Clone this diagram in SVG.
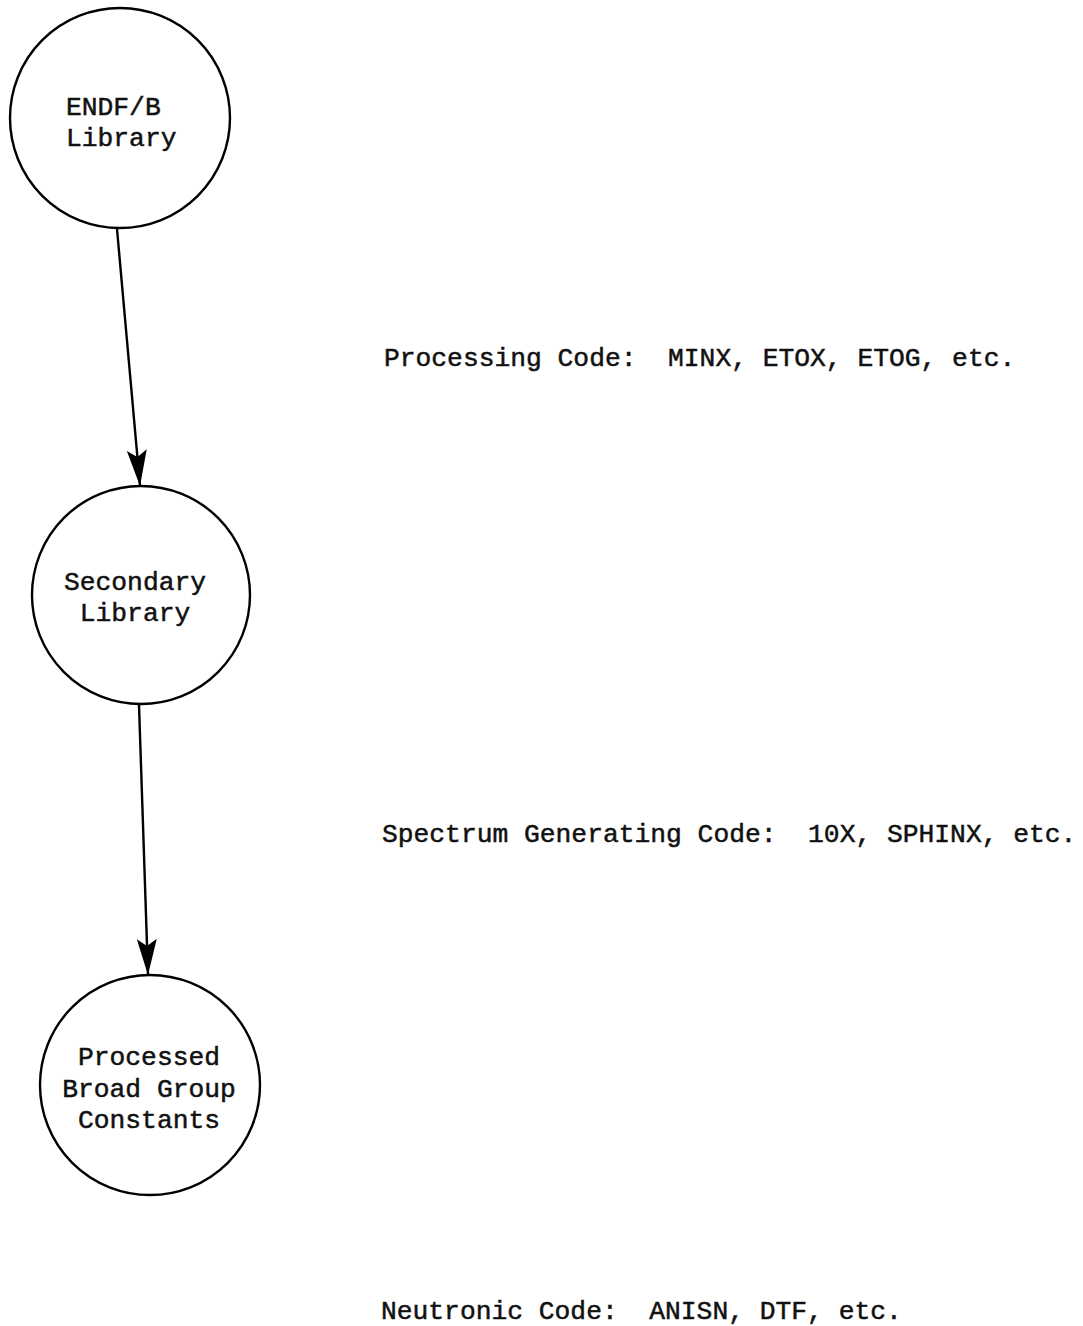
<svg xmlns="http://www.w3.org/2000/svg" width="1083" height="1326" viewBox="0 0 1083 1326">
<style>
.node{fill:none;stroke:#000;stroke-width:2.4}
.t{font-family:"Liberation Mono","Courier New",monospace;font-size:26.3px;fill:#111;stroke:#111;stroke-width:0.5}
.c{text-anchor:middle}
.edge{stroke:#000;stroke-width:2.4;fill:none}
</style>
<defs>
<marker id="arr" viewBox="0 0 36 22" refX="36" refY="11" markerWidth="36" markerHeight="22" markerUnits="userSpaceOnUse" orient="auto">
<path d="M0,1 L36,11 L0,21 L7,11 Z" fill="#000"/>
</marker>
</defs>
<rect width="1083" height="1326" fill="#fff"/>
<g id="connectors">
<line class="edge" x1="117" y1="229" x2="140" y2="486" marker-end="url(#arr)"/>
<line class="edge" x1="139" y1="705" x2="148" y2="975" marker-end="url(#arr)"/>
</g>
<g id="endf">
<circle class="node" cx="120" cy="118" r="110"/>
<text class="t" x="66" y="115">ENDF/B</text>
<text class="t" x="66" y="146">Library</text>
</g>
<g id="secondary">
<circle class="node" cx="141" cy="595" r="109"/>
<text class="t c" x="135" y="590">Secondary</text>
<text class="t c" x="135" y="621">Library</text>
</g>
<g id="processed">
<circle class="node" cx="150" cy="1085" r="110"/>
<text class="t c" x="149" y="1065">Processed</text>
<text class="t c" x="149" y="1097">Broad Group</text>
<text class="t c" x="149" y="1128">Constants</text>
</g>
<g id="labels">
<text class="t" x="384" y="366" xml:space="preserve">Processing Code:  MINX, ETOX, ETOG, etc.</text>
<text class="t" x="382" y="842" xml:space="preserve">Spectrum Generating Code:  10X, SPHINX, etc.</text>
<text class="t" x="381" y="1319" xml:space="preserve">Neutronic Code:  ANISN, DTF, etc.</text>
</g>
</svg>
